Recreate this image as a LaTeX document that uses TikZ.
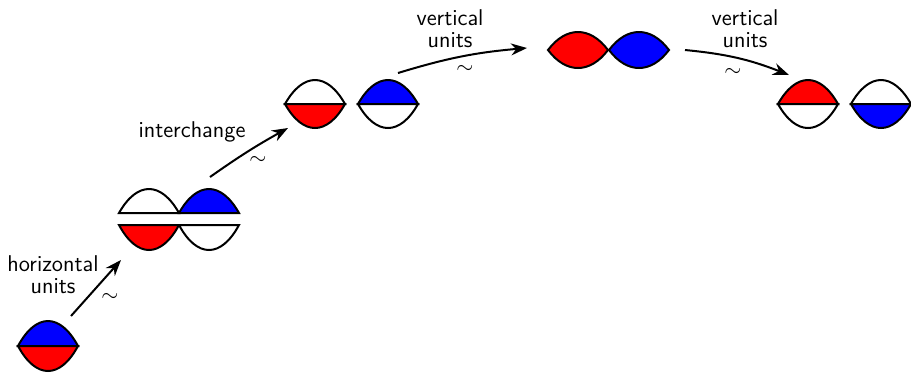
\documentclass[tikz,border=0pt]{standalone}
\usetikzlibrary{arrows.meta}
\definecolor{eyered}{RGB}{255,0,0}
\definecolor{eyeblue}{RGB}{0,0,255}
\tikzset{
  shapeline/.style={draw=black, line width=1pt},
  conn/.style={line width=1pt, -{Stealth[length=8pt,width=6pt]}},
  lab/.style={font=\fontsize{11.4}{11}\selectfont\sffamily, align=center, inner sep=0pt},
  simlab/.style={font=\fontsize{10.5}{10}\selectfont, inner sep=0pt}
}
% hump: #1 left x, #2 baseline y, #3 height (positive = up), #4 fill
\newcommand\hump[4]{%
  \filldraw[shapeline, fill=#4] (#1,#2) .. controls ({#1+18},{#2-1.3333*(#3)}) and ({#1+42},{#2-1.3333*(#3)}) .. ({#1+60},#2) -- cycle;}
% lens: #1 left x, #2 centre y, #3 half height, #4 fill
\newcommand\lens[4]{%
  \filldraw[shapeline, fill=#4] (#1,#2) .. controls ({#1+18},{#2-1.3333*(#3)}) and ({#1+42},{#2-1.3333*(#3)}) .. ({#1+60},#2)
     .. controls ({#1+42},{#2+1.3333*(#3)}) and ({#1+18},{#2+1.3333*(#3)}) .. (#1,#2) -- cycle;}
\begin{document}
\begin{tikzpicture}[x=0.5pt,y=-0.5pt]
\useasboundingbox (0,0) rectangle (911,372);
% shape 1
\coordinate (e1) at (48,346);
\hump{18}{346}{25}{eyeblue}
\hump{18}{346}{-25}{eyered}
% horizontal units
\coordinate (hu) at (179,219);
\hump{119}{213}{24}{white}
\hump{179}{213}{24}{eyeblue}
\hump{119}{225}{-25}{eyered}
\hump{179}{225}{-25}{white}
% interchange result
\coordinate (ic) at (351,104);
\hump{285}{104}{24}{white}
\hump{285}{104}{-24}{eyered}
\hump{358}{104}{24}{eyeblue}
\hump{358}{104}{-24}{white}
% vertical units lens
\coordinate (vu) at (609,50);
\lens{548}{50}{18}{eyered}
\lens{609}{50}{18}{eyeblue}
% final
\coordinate (fi) at (844,104);
\hump{778}{104}{24}{eyered}
\hump{778}{104}{-24}{white}
\hump{851}{104}{24}{white}
\hump{851}{104}{-24}{eyeblue}
% connector end points
\coordinate (a1s) at (71,316);
\coordinate (a1e) at (121,260);
\coordinate (a2s) at (210,177);
\coordinate (a2e) at (288,128);
\coordinate (a3s) at (398,73);
\coordinate (a3e) at (527,48);
\coordinate (a4s) at (685,50);
\coordinate (a4e) at (789,75);
\draw[conn] (a1s) -- (a1e);
\draw[conn] (a2s) to[bend left=3] (a2e);
\draw[conn] (a3s) to[bend left=6] (a3e);
\draw[conn] (a4s) to[bend left=8] (a4e);
% labels
\node[lab] (l1) at (53,275) {horizontal\\units};
\node[lab] (l2) at (192,132) {interchange};
\node[lab] (l3) at (450,29) {vertical\\units};
\node[lab] (l4) at (745,29) {vertical\\units};
\node[simlab] (s1) at (110,297) {$\sim$};
\node[simlab] (s2) at (258,160) {$\sim$};
\node[simlab] (s3) at (465,69) {$\sim$};
\node[simlab] (s4) at (733,72) {$\sim$};
\end{tikzpicture}
\end{document}
